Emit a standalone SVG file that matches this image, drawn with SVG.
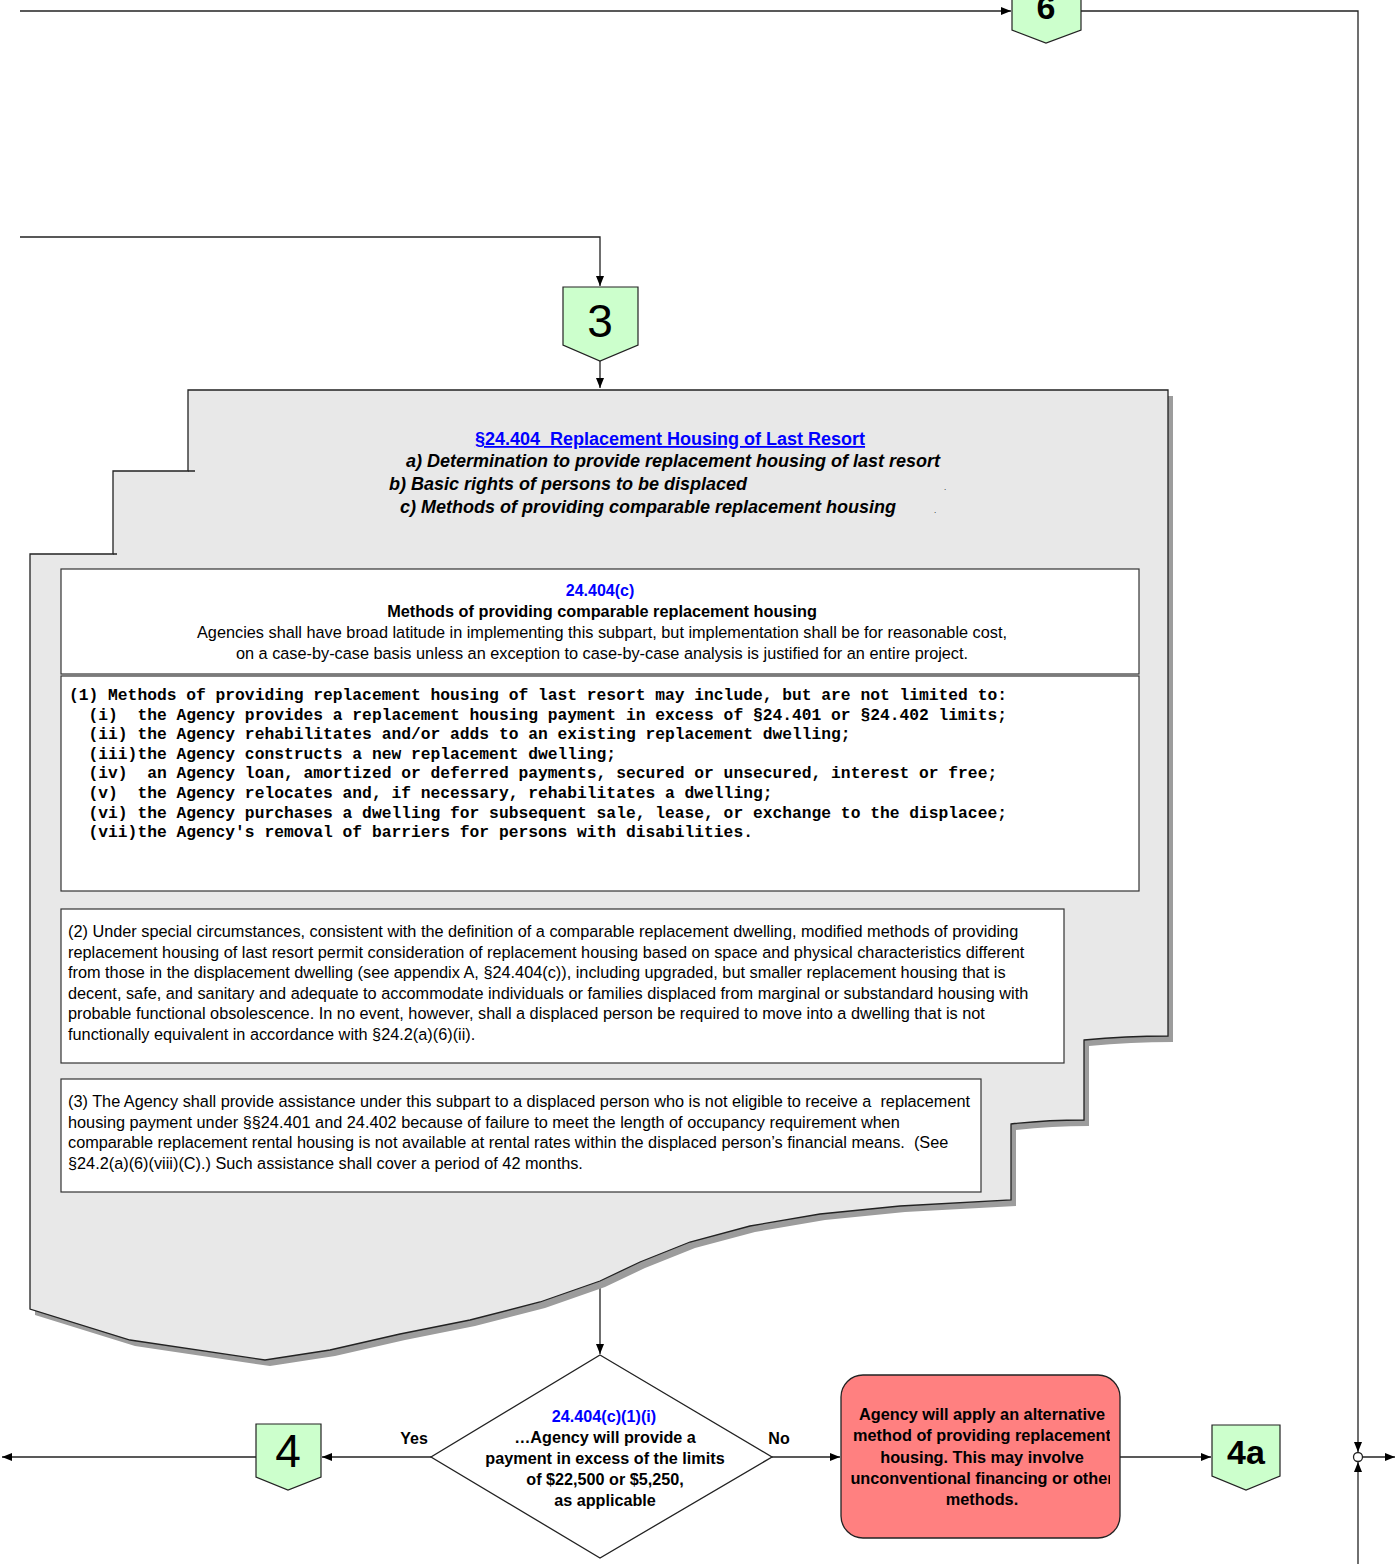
<svg xmlns="http://www.w3.org/2000/svg" width="1396" height="1564" viewBox="0 0 1396 1564">
<style>
.ln{fill:none;stroke:#222;stroke-width:1.3}
.node{fill:#ccffcc;stroke:#222;stroke-width:1.2}
.box{fill:#fff;stroke:#333;stroke-width:1.2}
.t{font-family:"Liberation Sans",Arial,sans-serif;fill:#000}
.b{font-weight:bold}
.blue{fill:#0000ff}
.mono{font-family:"Liberation Mono","Courier New",monospace;font-weight:bold;font-size:16.3px;fill:#000}
</style>
<defs>
<marker id="ah" viewBox="0 0 10 10" refX="10" refY="5" markerWidth="10" markerHeight="10" markerUnits="userSpaceOnUse" orient="auto">
<path d="M0,1 L10,5 L0,9 Z" fill="#000"/>
</marker>
<clipPath id="redclip"><rect x="841" y="1375" width="269" height="165"/></clipPath>
<path id="outline" d="M188,390 H1168 V1036 Q1126,1036 1084,1040 V1120 Q1047,1120 1011,1124 V1200 L900,1206 L820,1214 L750,1226 L690,1242 L640,1262 L600,1281 L540,1302 L470,1320 L400,1334 L330,1350 L265,1360 L130,1340 L30,1309 V554 H113 V471 H188 Z"/>
</defs>

<g id="connectors">
<path class="ln" d="M20,11 H1011" marker-end="url(#ah)"/>
<path class="ln" d="M1081,11 H1358 V1452" marker-end="url(#ah)"/>
<path class="ln" d="M1358,1564 V1462" marker-end="url(#ah)"/>
<path class="ln" d="M1362,1457 H1395" marker-end="url(#ah)"/>
<path class="ln" d="M20,237 H600 V286" marker-end="url(#ah)"/>
<path class="ln" d="M600,361 V388" marker-end="url(#ah)"/>
<path class="ln" d="M600,1282 V1354" marker-end="url(#ah)"/>
<path class="ln" d="M431,1457 H322" marker-end="url(#ah)"/>
<path class="ln" d="M256,1457 H2" marker-end="url(#ah)"/>
<path class="ln" d="M772,1457 H840" marker-end="url(#ah)"/>
<path class="ln" d="M1120,1457 H1211" marker-end="url(#ah)"/>
<circle cx="1358" cy="1457" r="4.5" fill="#fff" stroke="#222" stroke-width="1.3"/>
<text class="t b" x="414" y="1444" font-size="16" text-anchor="middle">Yes</text>
<text class="t b" x="779" y="1444" font-size="16" text-anchor="middle">No</text>
</g>

<g id="node6">
<path class="node" d="M1012,-10 H1081 V30 L1046,43 L1012,30 Z"/>
<text class="t b" x="1046" y="19" font-size="34" text-anchor="middle">6</text>
</g>

<g id="node3">
<path class="node" d="M563,287 H638 V345 L600,361 L563,345 Z"/>
<text class="t" x="600" y="337" font-size="46" text-anchor="middle">3</text>
</g>

<g id="section">
<use href="#outline" transform="translate(5,6)" fill="#9c9c9c"/>
<use href="#outline" fill="#e8e8e8" stroke="#222" stroke-width="1.3"/>
<path class="ln" d="M188,471 H195 M113,554 H117"/>
<text class="t b blue" x="670" y="445" font-size="18" text-anchor="middle" text-decoration="underline" xml:space="preserve">§24.404  Replacement Housing of Last Resort</text>
<text class="t b" x="406" y="467" font-size="18" font-style="italic">a) Determination to provide replacement housing of last resort</text>
<text class="t b" x="389" y="490" font-size="18" font-style="italic">b) Basic rights of persons to be displaced</text>
<text class="t b" x="400" y="513" font-size="18" font-style="italic">c) Methods of providing comparable replacement housing</text>
<text class="t" x="944" y="490" font-size="8" fill="#bbb">.</text>
<text class="t" x="934" y="513" font-size="8" fill="#bbb">.</text>
</g>

<g id="box-c">
<rect class="box" x="61" y="569" width="1078" height="105"/>
<text class="t b blue" x="600" y="596" font-size="16" text-anchor="middle">24.404(c)</text>
<text class="t b" x="602" y="617" font-size="16.3" text-anchor="middle">Methods of providing comparable replacement housing</text>
<text class="t" x="602" y="638" font-size="16.3" text-anchor="middle">Agencies shall have broad latitude in implementing this subpart, but implementation shall be for reasonable cost,</text>
<text class="t" x="602" y="659" font-size="16.3" text-anchor="middle">on a case-by-case basis unless an exception to case-by-case analysis is justified for an entire project.</text>
</g>

<g id="box-c1">
<rect class="box" x="61" y="676" width="1078" height="215"/>
<text class="mono" xml:space="preserve"><tspan x="69" y="700">(1) Methods of providing replacement housing of last resort may include, but are not limited to:</tspan><tspan x="69" y="719.6">  (i)  the Agency provides a replacement housing payment in excess of §24.401 or §24.402 limits;</tspan><tspan x="69" y="739.2">  (ii) the Agency rehabilitates and/or adds to an existing replacement dwelling;</tspan><tspan x="69" y="758.8">  (iii)the Agency constructs a new replacement dwelling;</tspan><tspan x="69" y="778.4">  (iv)  an Agency loan, amortized or deferred payments, secured or unsecured, interest or free;</tspan><tspan x="69" y="798">  (v)  the Agency relocates and, if necessary, rehabilitates a dwelling;</tspan><tspan x="69" y="817.6">  (vi) the Agency purchases a dwelling for subsequent sale, lease, or exchange to the displacee;</tspan><tspan x="69" y="837.2">  (vii)the Agency's removal of barriers for persons with disabilities.</tspan></text>
</g>

<g id="box-c2">
<rect class="box" x="61" y="909" width="1003" height="154"/>
<text class="t" font-size="16.3"><tspan x="68" y="937">(2) Under special circumstances, consistent with the definition of a comparable replacement dwelling, modified methods of providing</tspan><tspan x="68" y="957.5">replacement housing of last resort permit consideration of replacement housing based on space and physical characteristics different</tspan><tspan x="68" y="978">from those in the displacement dwelling (see appendix A, §24.404(c)), including upgraded, but smaller replacement housing that is</tspan><tspan x="68" y="998.5">decent, safe, and sanitary and adequate to accommodate individuals or families displaced from marginal or substandard housing with</tspan><tspan x="68" y="1019">probable functional obsolescence. In no event, however, shall a displaced person be required to move into a dwelling that is not</tspan><tspan x="68" y="1039.5">functionally equivalent in accordance with §24.2(a)(6)(ii).</tspan></text>
</g>

<g id="box-c3">
<rect class="box" x="61" y="1079" width="920" height="113"/>
<text class="t" font-size="16.3" xml:space="preserve"><tspan x="68" y="1107">(3) The Agency shall provide assistance under this subpart to a displaced person who is not eligible to receive a  replacement</tspan><tspan x="68" y="1127.5">housing payment under §§24.401 and 24.402 because of failure to meet the length of occupancy requirement when</tspan><tspan x="68" y="1148">comparable replacement rental housing is not available at rental rates within the displaced person’s financial means.  (See</tspan><tspan x="68" y="1168.5">§24.2(a)(6)(viii)(C).) Such assistance shall cover a period of 42 months.</tspan></text>
</g>

<g id="decision">
<path d="M600,1355 L772,1457 L600,1558 L431,1457 Z" fill="#fff" stroke="#222" stroke-width="1.3"/>
<text class="t b" font-size="16.2" text-anchor="middle"><tspan class="blue" x="604" y="1422">24.404(c)(1)(i)</tspan><tspan x="605" y="1443">…Agency will provide a</tspan><tspan x="605" y="1464">payment in excess of the limits</tspan><tspan x="605" y="1485">of $22,500 or $5,250,</tspan><tspan x="605" y="1506">as applicable</tspan></text>
</g>

<g id="node4">
<path class="node" d="M256,1424 H321 V1477 L288,1490 L256,1477 Z"/>
<text class="t" x="288" y="1467" font-size="46" text-anchor="middle">4</text>
</g>

<g id="alternative">
<rect x="841" y="1375" width="279" height="163" rx="22" fill="#ff8080" stroke="#222" stroke-width="1.3"/>
<text class="t b" font-size="16.3" text-anchor="middle" clip-path="url(#redclip)"><tspan x="982" y="1420">Agency will apply an alternative</tspan><tspan x="982" y="1441">method of providing replacement</tspan><tspan x="982" y="1463">housing. This may involve</tspan><tspan x="982" y="1484">unconventional financing or other</tspan><tspan x="982" y="1505">methods.</tspan></text>
</g>

<g id="node4a">
<path class="node" d="M1212,1425 H1280 V1476 L1246,1490 L1212,1476 Z"/>
<text class="t b" x="1246" y="1464" font-size="34" text-anchor="middle">4a</text>
</g>
</svg>
